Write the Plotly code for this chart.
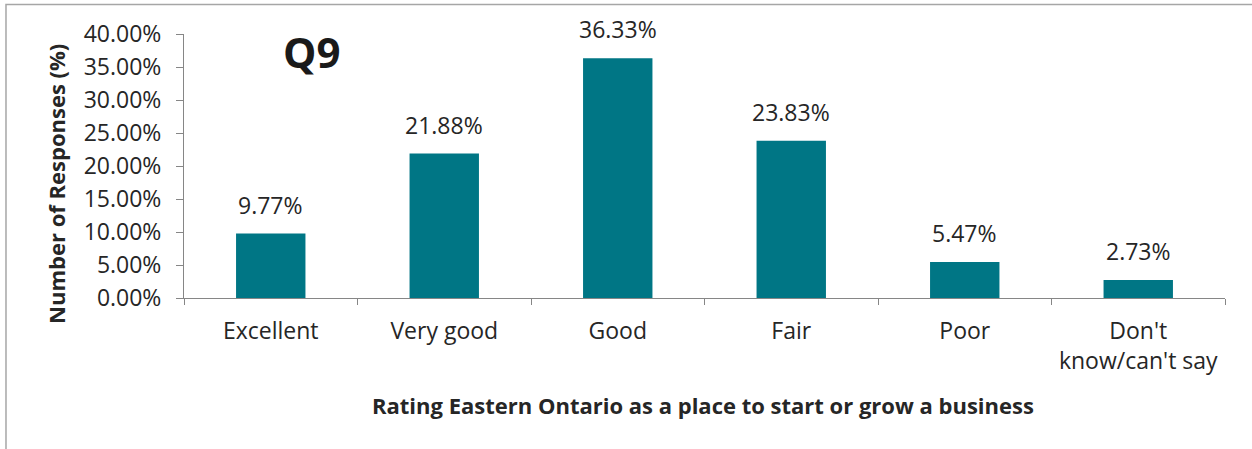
import plotly.graph_objects as go

# Survey responses for Q9
categories = ["Excellent", "Very good", "Good", "Fair", "Poor", "Don't<br>know/can't say"]
shares = [9.77, 21.88, 36.33, 23.83, 5.47, 2.73]
y_ticks = [0, 5, 10, 15, 20, 25, 30, 35, 40]
y_tick_labels = [f"{v:.2f}%" for v in y_ticks]

FONT = "'Open Sans', 'Noto Sans', sans-serif"
TEXT = "#262626"
AXIS = "#868686"
BAR = "#007685"

fig = go.Figure(
    go.Bar(
        x=categories,
        y=shares,
        width=0.4,
        marker=dict(color=BAR, line=dict(width=0)),
        hoverinfo="skip",
    )
)

# Value labels above each bar
for cat, val in zip(categories, shares):
    fig.add_annotation(
        x=cat, y=val, xref="x", yref="y",
        text=f"{val:.2f}%", showarrow=False,
        yanchor="bottom", yshift=11,
        font=dict(family=FONT, size=23, color=TEXT),
    )

fig.add_annotation(
    x=0.122, y=0.932, xref="paper", yref="paper",
    text="<b>Q9</b>", showarrow=False,
    xanchor="center", yanchor="middle",
    font=dict(family=FONT, size=42, color="#1a1a1a"),
)

fig.add_annotation(
    x=-0.123, y=0.432, xref="paper", yref="paper",
    text="<b>Number of Responses (%)</b>", showarrow=False, textangle=-90,
    xanchor="center", yanchor="middle",
    font=dict(family=FONT, size=22, color=TEXT),
)

fig.add_annotation(
    x=0.499, y=-0.405, xref="paper", yref="paper",
    text="<b>Rating Eastern Ontario as a place to start or grow a business</b>",
    showarrow=False, xanchor="center", yanchor="middle",
    font=dict(family=FONT, size=22, color=TEXT),
)

# Outer chart frame
fig.add_shape(
    type="rect", xref="paper", yref="paper",
    x0=-0.171, x1=1.2, y0=-1.0, y1=1.1117,
    line=dict(color="#a6a6a6", width=1.5), layer="below",
)

fig.update_layout(
    width=1252, height=449,
    margin=dict(l=184, r=27, t=34, b=151),
    paper_bgcolor="white", plot_bgcolor="white",
    showlegend=False,
    bargap=0.6,
    font=dict(family=FONT, size=23, color=TEXT),
)

fig.update_xaxes(
    showline=True, linecolor=AXIS, linewidth=1,
    ticks="outside", tickson="boundaries", ticklen=6, tickcolor=AXIS,
    showgrid=False, ticklabelstandoff=12,
    tickfont=dict(family=FONT, size=23, color=TEXT),
)

fig.update_yaxes(
    range=[0, 40], tickvals=y_ticks, ticktext=y_tick_labels,
    showline=True, linecolor=AXIS, linewidth=1,
    ticks="outside", ticklen=7, tickcolor=AXIS,
    showgrid=False, zeroline=False, ticklabelstandoff=10,
    tickfont=dict(family=FONT, size=23, color=TEXT),
)

fig.write_html("out.html")
